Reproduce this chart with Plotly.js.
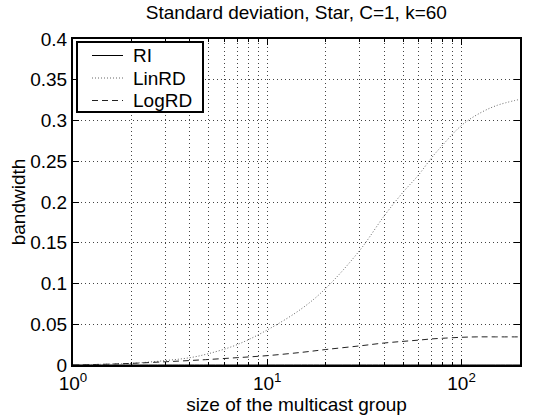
<!DOCTYPE html>
<html>
<head>
<meta charset="utf-8">
<script src="https://cdn.plot.ly/plotly-3.0.1.min.js"></script>
<style>html,body{margin:0;padding:0;background:#fff}#chart{width:534px;height:420px}</style>
</head>
<body>
<div id="chart"></div>
<script>
const groupSize = [1, 1.5, 2, 3, 4, 5, 7, 10, 15, 20, 30, 40, 50, 60, 70, 80, 100, 120, 150, 200];
const riValues = [0, 0, 0, 0, 0, 0, 0, 0, 0, 0, 0, 0, 0, 0, 0, 0, 0, 0, 0, 0];
const linRdValues = [0, 0.001, 0.002, 0.0055, 0.009, 0.014, 0.025, 0.043, 0.069, 0.094, 0.141, 0.183, 0.212, 0.233, 0.254, 0.270, 0.294, 0.307, 0.318, 0.326];
const logRdValues = [0, 0.001, 0.002, 0.004, 0.0055, 0.0068, 0.009, 0.0115, 0.0155, 0.019, 0.0235, 0.027, 0.029, 0.0305, 0.032, 0.0328, 0.034, 0.0345, 0.0345, 0.0345];
const seriesNames = ["RI", "LinRD", "LogRD"];
const yTickVals = [0, 0.05, 0.1, 0.15, 0.2, 0.25, 0.3, 0.35, 0.4];
const yTickText = ["0", "0.05", "0.1", "0.15", "0.2", "0.25", "0.3", "0.35", "0.4"];
const xTickVals = [1, 10, 100];
const xTickText = ["10<sup>0</sup>", "10<sup>1</sup>", "10<sup>2</sup>"];
const xMinorVals = [2, 3, 4, 5, 6, 7, 8, 9, 20, 30, 40, 50, 60, 70, 80, 90];

const FONT = "Liberation Sans";
const FS = 19;
const GRID = "#444";
const GDASH = "1px,3px";
const lineStyles = [
  {color: "#000", width: 1, dash: "solid"},
  {color: "#666", width: 1, dash: "1px,2px"},
  {color: "#222", width: 1, dash: "6px,4px"}
];
const seriesValues = [riValues, linRdValues, logRdValues];
const traces = seriesNames.map((n, i) => ({
  x: groupSize, y: seriesValues[i], name: n, mode: "lines",
  line: Object.assign({shape: "spline"}, lineStyles[i])
}));

// legend drawn in paper coordinates (plot area 73..520 x 39..365 px)
const M = {l: 73, r: 14, t: 39, b: 55};
const PW = 534 - M.l - M.r, PH = 420 - M.t - M.b;
const px = v => (v - M.l) / PW;
const py = v => (420 - M.b - v) / PH;
const shapes = [
  {type: "rect", xref: "paper", yref: "paper", x0: px(77), x1: px(203), y0: py(112), y1: py(42),
   line: {color: "#000", width: 2}, fillcolor: "#fff", layer: "above"}
];
const annotations = [];
const rowY = [55.5, 78, 100.5];
seriesNames.forEach((n, i) => {
  shapes.push({type: "line", xref: "paper", yref: "paper", x0: px(92), x1: px(123), y0: py(rowY[i]), y1: py(rowY[i]),
    line: lineStyles[i], layer: "above"});
  annotations.push({xref: "paper", yref: "paper", x: px(131), y: py(rowY[i]), xanchor: "left", yanchor: "middle",
    text: n, showarrow: false, font: {family: FONT, size: FS, color: "#000"}});
});

const layout = {
  width: 534, height: 420,
  margin: M,
  paper_bgcolor: "#fff", plot_bgcolor: "#fff",
  font: {family: FONT, size: FS, color: "#000"},
  title: {text: "Standard deviation, Star, C=1, k=60", font: {family: FONT, size: FS, color: "#000"}, x: 0.555, xanchor: "center", y: 0.97, yanchor: "middle"},
  showlegend: false,
  shapes: shapes,
  annotations: annotations,
  xaxis: {
    type: "log", range: [0, Math.log10(200)],
    tickmode: "array", tickvals: xTickVals, ticktext: xTickText,
    ticks: "inside", ticklen: 6, tickcolor: "#000", tickwidth: 1,
    showline: true, linecolor: "#000", linewidth: 2, mirror: "ticks",
    showgrid: true, gridcolor: GRID, gridwidth: 1, griddash: GDASH,
    zeroline: false,
    minor: {tickmode: "array", tickvals: xMinorVals, ticks: "inside", ticklen: 3, tickcolor: "#000", showgrid: true, gridcolor: GRID, gridwidth: 1, griddash: GDASH},
    title: {text: "size of the multicast group", font: {family: FONT, size: FS, color: "#000"}, standoff: 0},
    tickfont: {family: FONT, size: FS, color: "#000"}
  },
  yaxis: {
    range: [0, 0.4],
    tickmode: "array", tickvals: yTickVals, ticktext: yTickText,
    ticks: "inside", ticklen: 6, tickcolor: "#000", tickwidth: 1,
    showline: true, linecolor: "#000", linewidth: 2, mirror: "ticks",
    showgrid: true, gridcolor: GRID, gridwidth: 1, griddash: GDASH,
    zeroline: false,
    title: {text: "bandwidth", font: {family: FONT, size: FS, color: "#000"}, standoff: 0},
    tickfont: {family: FONT, size: FS, color: "#000"}
  }
};
Plotly.newPlot("chart", traces, layout, {displayModeBar: false, staticPlot: true});
</script>
</body>
</html>
